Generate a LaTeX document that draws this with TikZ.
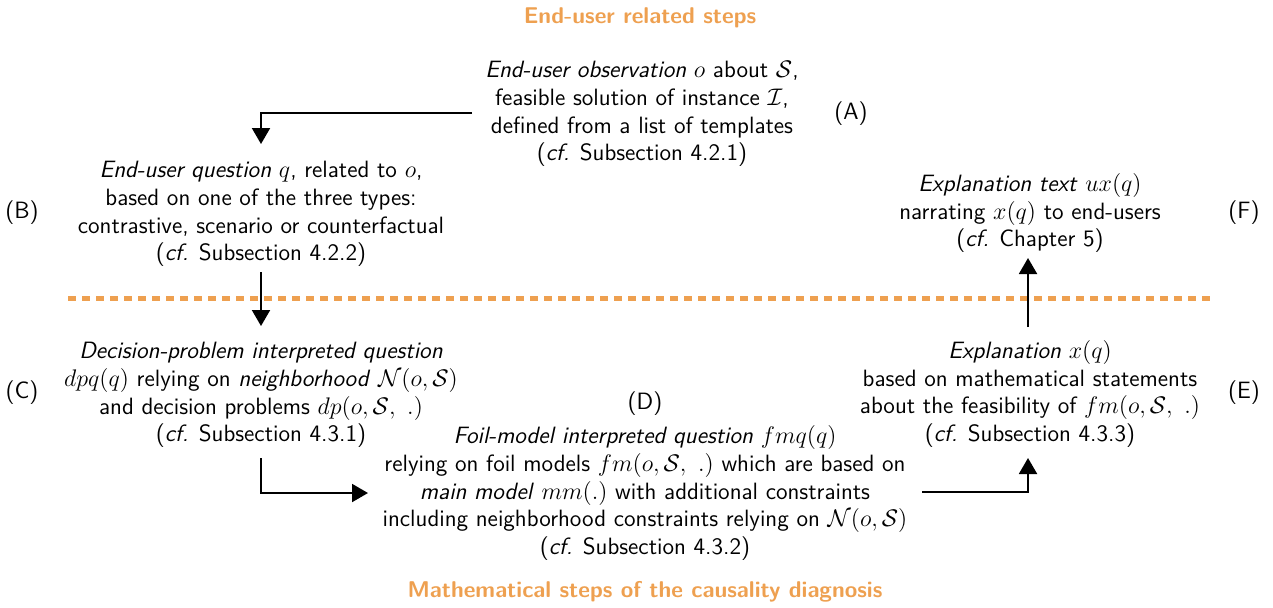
\documentclass[tikz,border=0pt]{standalone}
\usetikzlibrary{arrows.meta}
\definecolor{steporange}{RGB}{238,160,80}
\begin{document}
\begin{tikzpicture}[x=0.5pt,y=-0.5pt,
  font=\sffamily\fontsize{11.8}{13.8}\selectfont,
  txt/.style={align=center, inner sep=0pt},
  lbl/.style={inner sep=0pt},
  arr/.style={line width=1pt, -{Triangle[length=8pt,width=9pt]}},
  ttl/.style={font=\sffamily\bfseries\fontsize{11.4}{13}\selectfont, text=steporange, inner sep=0pt},
  sep/.style={draw=steporange, line width=2.5pt, dash pattern=on 4pt off 3pt}]
\useasboundingbox (0,0) rectangle (1273,607);

\node[ttl] (t1) at (640,18) {End-user related steps};
\node[ttl] (t2) at (645,592) {Mathematical steps of the causality diagnosis};

\coordinate (sl) at (68,298);
\coordinate (sr) at (1213,298);
\draw[sep] (sl) -- (sr);

\node[txt] (A) at (642,114) {\textit{End-user observation} $o$ about $\mathcal{S}$,\\ feasible solution of instance $\mathcal{I}$,\\ defined from a list of templates\\ (\textit{cf.} Subsection 4.2.1)};
\node[txt] (B) at (261,214) {\textit{End-user question} $q$, related to $o$,\\ based on one of the three types:\\ contrastive, scenario or counterfactual\\ (\textit{cf.} Subsection 4.2.2)};
\node[txt] (C) at (261,395) {\textit{Decision-problem interpreted question}\\ $dpq(q)$ relying on \textit{neighborhood} $\mathcal{N}(o,\mathcal{S})$\\ and decision problems $dp(o,\mathcal{S},\ .)$\\ (\textit{cf.} Subsection 4.3.1)};
\node[txt] (D) at (645,493) {\textit{Foil-model interpreted question} $fmq(q)$\\ relying on foil models $fm(o,\mathcal{S},\ .)$ which are based on\\ \textit{main model} $mm(.)$ with additional constraints\\ including neighborhood constraints relying on $\mathcal{N}(o,\mathcal{S})$\\ (\textit{cf.} Subsection 4.3.2)};
\node[txt] (E) at (1030,394) {\textit{Explanation} $x(q)$\\ based on mathematical statements\\ about the feasibility of $fm(o,\mathcal{S},\ .)$\\ (\textit{cf.} Subsection 4.3.3)};
\node[txt] (F) at (1030,213) {\textit{Explanation text} $ux(q)$\\ narrating $x(q)$ to end-users\\ (\textit{cf.} Chapter 5)};

\node[lbl] (la) at (851,114) {(A)};
\node[lbl] (lb) at (22,213) {(B)};
\node[lbl] (lc) at (22,393) {(C)};
\node[lbl] (ld) at (645,404) {(D)};
\node[lbl] (le) at (1244,393) {(E)};
\node[lbl] (lf) at (1244,213) {(F)};

\coordinate (a1) at (472,113);
\coordinate (b1) at (261,144);
\coordinate (b2) at (261,272);
\coordinate (c1) at (261,326);
\coordinate (c2) at (261,458);
\coordinate (d1) at (368,493);
\coordinate (d2) at (922,492);
\coordinate (e1) at (1028,458);
\coordinate (e2) at (1028,327);
\coordinate (f1) at (1028,258);

\draw[arr] (a1) -| (b1);
\draw[arr] (b2) -- (c1);
\draw[arr] (c2) |- (d1);
\draw[arr] (d2) -| (e1);
\draw[arr] (e2) -- (f1);
\end{tikzpicture}
\end{document}
